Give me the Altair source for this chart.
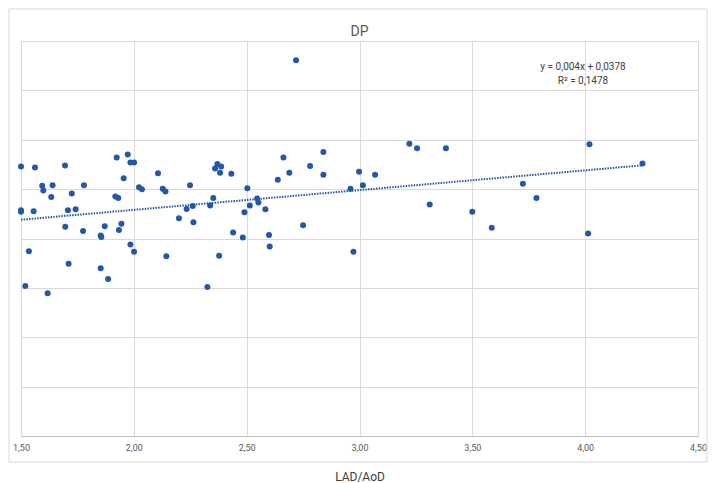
import altair as alt
import pandas as pd

# LAD/AoD values (x) and DP values (y)
x_vals = [1.500, 1.500, 1.500, 1.535, 1.519, 1.562, 1.556, 1.594, 1.599, 1.618,
          1.640, 1.634, 1.695, 1.696, 1.708, 1.711, 1.725, 1.742, 1.775, 1.779,
          1.853, 1.856, 1.853, 1.871, 1.886, 1.924, 1.918, 1.931, 1.934, 1.945,
          1.955, 1.973, 1.985, 2.001, 1.985, 2.001, 2.023, 2.036, 2.107, 2.128,
          2.140, 2.144, 2.200, 2.234, 2.249, 2.261, 2.264, 2.326, 2.338, 2.352,
          2.360, 2.370, 2.387, 2.382, 2.378, 2.432, 2.440, 2.483, 2.490, 2.503,
          2.514, 2.546, 2.552, 2.583, 2.599, 2.602, 2.638, 2.663, 2.689, 2.719,
          2.750, 2.781, 2.840, 2.840, 2.960, 2.973, 2.998, 3.015, 3.069, 3.221,
          3.255, 3.383, 3.311, 3.500, 3.586, 3.724, 3.784, 4.019, 4.013, 4.254]
y_vals = [0.0546, 0.0457, 0.0454, 0.0374, 0.0304, 0.0544, 0.0455, 0.0507, 0.0497, 0.0289,
          0.0508, 0.0484, 0.0548, 0.0424, 0.0457, 0.0349, 0.0491, 0.0459, 0.0415, 0.0508,
          0.0406, 0.0403, 0.0340, 0.0425, 0.0318, 0.0564, 0.0485, 0.0482, 0.0417, 0.0430,
          0.0522, 0.0570, 0.0554, 0.0554, 0.0388, 0.0373, 0.0504, 0.0500, 0.0532, 0.0501,
          0.0495, 0.0364, 0.0441, 0.0460, 0.0508, 0.0466, 0.0433, 0.0302, 0.0467, 0.0482,
          0.0542, 0.0551, 0.0546, 0.0533, 0.0365, 0.0531, 0.0412, 0.0402, 0.0453, 0.0502,
          0.0467, 0.0481, 0.0473, 0.0459, 0.0407, 0.0384, 0.0519, 0.0564, 0.0533, 0.0761,
          0.0427, 0.0547, 0.0575, 0.0529, 0.0501, 0.0373, 0.0535, 0.0508, 0.0529, 0.0592,
          0.0583, 0.0583, 0.0469, 0.0454, 0.0422, 0.0511, 0.0482, 0.0591, 0.0410, 0.0552]

# linear trendline coefficients as shown on the chart
trend_slope = 0.004
trend_intercept = 0.0378

x_ticks = [1.5, 2.0, 2.5, 3.0, 3.5, 4.0, 4.5]
y_ticks = [0.0, 0.01, 0.02, 0.03, 0.04, 0.05, 0.06, 0.07, 0.08]
chart_title = "DP"
equation_text = "y = 0,004x + 0,0378"
r2_text = "R² = 0,1478"

df = pd.DataFrame({"LAD/AoD": x_vals, "DP": y_vals})
trend_x = [min(x_vals), max(x_vals)]
trend_df = pd.DataFrame({"LAD/AoD": trend_x,
                         "DP": [trend_slope * v + trend_intercept for v in trend_x]})
one = pd.DataFrame({"k": [0]})

FONT = "Liberation Sans Narrow, Roboto, sans-serif"
BLUE = "#2458A6"
GRID = "#D9D9D9"

xscale = alt.Scale(domain=[1.5, 4.5], nice=False, zero=False)
yscale = alt.Scale(domain=[0, 0.08], nice=False, zero=False)

x_enc = alt.X(
    "LAD/AoD:Q", scale=xscale, title="LAD/AoD",
    axis=alt.Axis(values=x_ticks, grid=True, gridColor=GRID, ticks=False,
                  domainColor="#BFBFBF", labelFont=FONT, labelFontSize=9,
                  labelColor="#595959", labelPadding=7, labelFlush=False,
                  labelExpr="replace(format(datum.value, '.2f'), '.', ',')",
                  titleFont=FONT, titleFontSize=12, titleFontWeight="normal",
                  titleColor="#404040", titlePadding=19),
)
y_enc = alt.Y(
    "DP:Q", scale=yscale, title=None,
    axis=alt.Axis(values=y_ticks, grid=True, gridColor=GRID, ticks=False,
                  labels=False, domain=False),
)

frame = alt.Chart(one).mark_rect(
    fill=None, stroke=GRID, strokeWidth=1
).encode(x=alt.value(-12), x2=alt.value(686), y=alt.value(-32), y2=alt.value(421))

title_mark = alt.Chart(one).mark_text(
    text=chart_title, font=FONT, fontSize=14, color="#595959",
    align="center", baseline="middle"
).encode(x=alt.value(338.5), y=alt.value(-9))

points = alt.Chart(df).mark_circle(size=36, color=BLUE, opacity=1).encode(x=x_enc, y=y_enc)

trend = alt.Chart(trend_df).mark_line(
    color=BLUE, strokeWidth=2, strokeDash=[1.5, 1.2]
).encode(x=alt.X("LAD/AoD:Q", scale=xscale), y=alt.Y("DP:Q", scale=yscale))

eq1 = alt.Chart(one).mark_text(
    text=equation_text, font=FONT, fontSize=10, color="#404040",
    align="center", baseline="middle"
).encode(x=alt.value(562), y=alt.value(26))

eq2 = alt.Chart(one).mark_text(
    text=r2_text, font=FONT, fontSize=10, color="#404040",
    align="center", baseline="middle"
).encode(x=alt.value(562), y=alt.value(40))

chart = alt.layer(frame, title_mark, points, trend, eq1, eq2).properties(
    width=677, height=395,
    autosize=alt.AutoSizeParams(type="none"),
    padding={"left": 13, "top": 33, "right": 13, "bottom": 47},
).configure_view(stroke=None)

chart.save("out.html", embed_options={"renderer": "svg", "actions": False})
